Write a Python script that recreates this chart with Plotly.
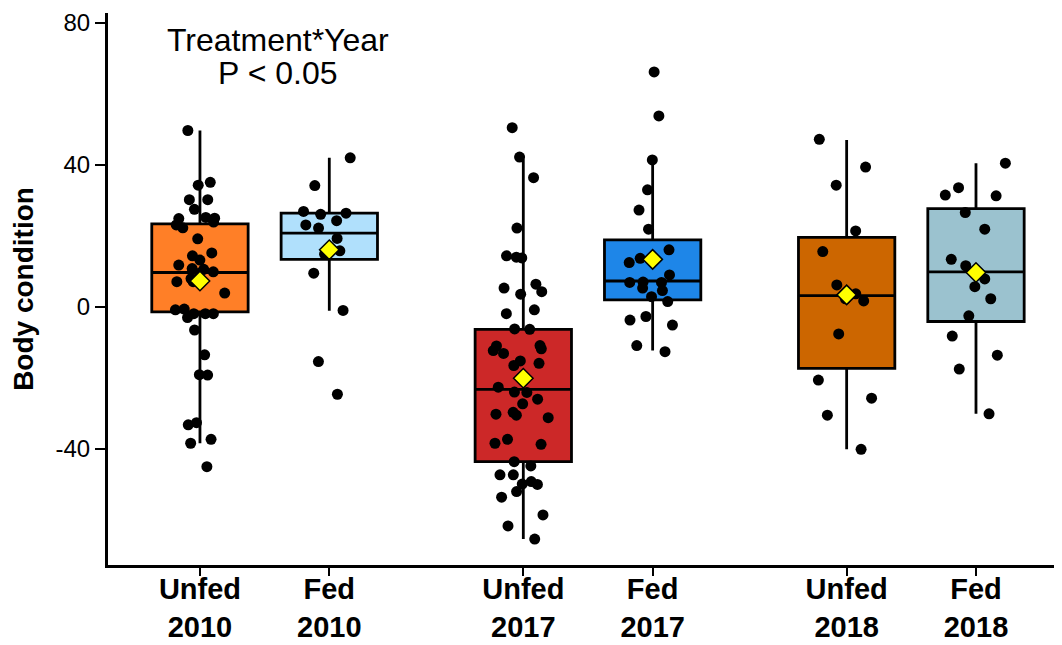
import plotly.graph_objects as go

# group positions on the x axis (gaps between years)
positions = [0, 1, 2.5, 3.5, 5, 6]
tick_labels = ["Unfed<br>2010", "Fed<br>2010", "Unfed<br>2017", "Fed<br>2017",
               "Unfed<br>2018", "Fed<br>2018"]
box_colors = ["#FF7F27", "#B0E0FC", "#CC2828", "#1E86E8", "#CC6600", "#9BC2CF"]

# box summary stats
q1 = [-1.4, 13.4, -43.6, 2.0, -17.3, -4.1]
median = [9.7, 20.8, -23.2, 7.3, 3.2, 9.9]
q3 = [23.4, 26.4, -6.3, 18.9, 19.6, 27.7]
lower = [-38.4, -1.1, -65.4, -12.3, -40.1, -30.1]
upper = [49.7, 42.0, 41.6, 41.1, 47.0, 40.5]
means = [7.3, 16.1, -20.1, 13.4, 3.4, 9.7]

# individual observations
unfed_2010 = [49.7, 35.1, 34.3, 30.2, 30.2, 27.5, 25.0, 24.9, 23.9, 22.3, 23.1, 25.2,
              19.2, 15.2, 14.4, 13.2, 11.8, 9.9, 10.6, 7.1, 7.1, 8.0, 9.5, 10.8, 3.9,
              -1.9, -1.9, -0.6, -0.8, -1.9, -3.0, -6.5, -13.5, -19.2, -19.1, -32.6,
              -33.2, -37.3, -38.4, -45.0]
fed_2010 = [42.0, 34.2, 26.1, 26.9, 26.4, 23.1, 24.3, 22.2, 19.3, 16.2, 15.8, 14.9,
            9.5, -1.0, -15.4, -24.6]
unfed_2017 = [50.5, 42.2, 36.4, 22.2, 14.4, 14.0, 13.8, 4.3, 6.4, 5.3, 3.6, -0.8,
              -1.9, -6.3, -6.2, -10.9, -11.0, -12.3, -11.8, -13.1, -15.9, -15.2,
              -16.5, -20.6, -24.1, -24.0, -22.6, -26.0, -27.3, -29.7, -31.2, -30.5,
              -30.2, -38.4, -38.7, -37.3, -44.8, -43.6, -47.3, -47.3, -49.2, -49.9,
              -50.0, -52.0, -53.6, -58.6, -61.7, -65.4]
fed_2017 = [66.2, 53.8, 41.4, 33.0, 27.3, 21.9, 16.1, 13.7, 12.5, 9.0, 6.9, 7.0, 6.9,
            5.3, 4.6, 2.9, 1.5, -2.7, -3.7, -5.1, -10.9, -12.6]
unfed_2018 = [47.2, 39.4, 34.3, 21.4, 15.6, 6.2, 3.7, 2.3, 1.7, -7.6, -20.6, -25.7,
              -30.5, -40.1]
fed_2018 = [40.5, 33.6, 31.3, 31.5, 26.6, 21.9, 13.4, 11.6, 7.9, 5.7, 2.3, -2.5, -8.2,
            -13.6, -17.5, -30.1]
observations = [unfed_2010, fed_2010, unfed_2017, fed_2017, unfed_2018, fed_2018]

fig = go.Figure()

for i, pos in enumerate(positions):
    fig.add_trace(go.Box(
        x=[pos], q1=[q1[i]], median=[median[i]], q3=[q3[i]],
        lowerfence=[lower[i]], upperfence=[upper[i]],
        width=0.745, whiskerwidth=0, boxpoints=False,
        fillcolor=box_colors[i], line=dict(color="black", width=2.8),
    ))

# jittered points drawn by an invisible box
for i, pos in enumerate(positions):
    vals = observations[i]
    fig.add_trace(go.Box(
        x=[pos] * len(vals), y=vals, width=0.745,
        boxpoints="all", jitter=0.7, pointpos=0,
        fillcolor="rgba(0,0,0,0)", line=dict(color="rgba(0,0,0,0)", width=0),
        marker=dict(color="black", size=11),
    ))

fig.add_trace(go.Scatter(
    x=positions, y=means, mode="markers",
    marker=dict(symbol="diamond", size=15, color="#FFFF00",
                line=dict(color="black", width=1.5)),
))

# page has an 8px body margin, so the figure is 8px smaller each way;
# plot area in page pixels: x 108..1062, y 13..565
def px_x(p):
    return (p - 108) / 954

def px_y(p):
    return 1 - (p - 13) / 552

fig.add_annotation(x=px_x(278), y=px_y(40), xref="paper", yref="paper",
                   showarrow=False, text="Treatment*Year",
                   font=dict(size=32, color="black"), xanchor="center", yanchor="middle")
fig.add_annotation(x=px_x(278), y=px_y(73), xref="paper", yref="paper",
                   showarrow=False, text="P < 0.05",
                   font=dict(size=32, color="black"), xanchor="center", yanchor="middle")

fig.update_layout(
    width=1054, height=637,
    margin=dict(l=100, r=0, t=5, b=80),
    plot_bgcolor="white", paper_bgcolor="white",
    showlegend=False, boxmode="overlay",
    font=dict(family="Arial, Liberation Sans, sans-serif", color="black"),
)
fig.update_xaxes(
    range=[-0.711, 6.665], tickvals=positions, ticktext=tick_labels,
    tickfont=dict(size=29, weight="bold"), ticklabelstandoff=-12,
    showline=True, linecolor="black", linewidth=3,
    ticks="outside", ticklen=8, tickwidth=2, tickcolor="black",
    showgrid=False, zeroline=False, automargin=False,
)
fig.update_yaxes(
    range=[-72.7, 82.8], tickvals=[-40, 0, 40, 80],
    ticktext=["-40", "0", "40", "80"], tickfont=dict(size=24),
    title=dict(text="<b>Body condition</b>", font=dict(size=28), standoff=15),
    showline=True, linecolor="black", linewidth=3,
    ticks="outside", ticklen=10, tickwidth=2, tickcolor="black",
    showgrid=False, zeroline=False, automargin=False,
)

fig.write_html("out.html")
